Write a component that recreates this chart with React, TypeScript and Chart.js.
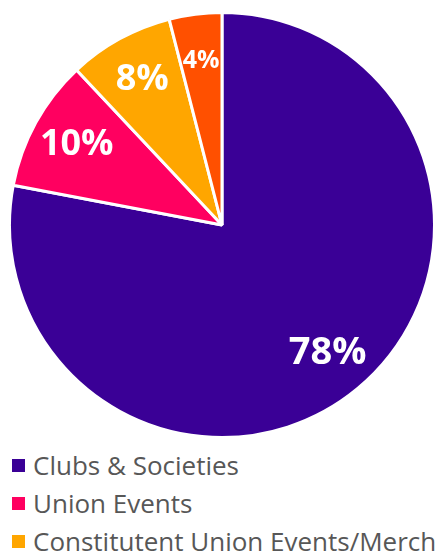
import React, { useEffect, useRef } from "react";
import { Chart, registerables } from "chart.js";

Chart.register(...registerables);

const categories = [
  "Clubs & Societies",
  "Union Events",
  "Constitutent Union Events/Merch",
  "Other",
];
const values = [78, 10, 8, 4];
const labelTexts = ["78%", "10%", "8%", "4%"];
const labelSizes = [38, 36, 36, 25];
const colors = ["#3a0096", "#ff0060", "#ffa600", "#ff5000"];

const pctLabels = {
  id: "pctLabels",
  afterDatasetsDraw(chart: any) {
    const ctx = chart.ctx;
    const meta = chart.getDatasetMeta(0);
    meta.data.forEach((arc: any, i: number) => {
      const { x, y, startAngle, endAngle, outerRadius } = arc.getProps(
        ["x", "y", "startAngle", "endAngle", "outerRadius"],
        true
      );
      const mid = (startAngle + endAngle) / 2;
      const r = outerRadius * 0.78;
      ctx.save();
      ctx.fillStyle = "#ffffff";
      ctx.font = `bold ${labelSizes[i]}px "Open Sans"`;
      ctx.textAlign = "center";
      ctx.textBaseline = "middle";
      ctx.fillText(labelTexts[i], x + Math.cos(mid) * r, y + Math.sin(mid) * r);
      ctx.restore();
    });
  },
};

export default function App() {
  const ref = useRef<HTMLCanvasElement>(null);
  useEffect(() => {
    const chart = new Chart(ref.current!, {
      type: "pie",
      data: {
        labels: categories,
        datasets: [
          {
            data: values,
            backgroundColor: colors,
            borderColor: "#ffffff",
            borderWidth: 3,
          },
        ],
      },
      options: {
        animation: false,
        responsive: true,
        maintainAspectRatio: false,
        layout: { padding: { left: 0, right: 4, top: 2, bottom: 0 } },
        plugins: {
          tooltip: { enabled: false },
          legend: { display: false },
        },
      },
      plugins: [pctLabels],
    });
    return () => chart.destroy();
  }, []);
  return (
    <div style={{ width: "432px" }}>
      <div style={{ position: "relative", width: "432px", height: "432px" }}>
        <canvas ref={ref} />
      </div>
      <div style={{ marginTop: "6px", fontFamily: "'Open Sans'", fontSize: "26px", color: "#575757" }}>
        {categories.map((c, i) => (
          <div
            key={c}
            style={{ display: "flex", alignItems: "center", height: "38px", whiteSpace: "nowrap" }}
          >
            <span
              style={{
                display: "inline-block",
                width: "13px",
                height: "13px",
                marginLeft: "4px",
                marginRight: "8px",
                background: colors[i],
                flex: "none",
              }}
            />
            <span style={{ flex: "none" }}>{c}</span>
          </div>
        ))}
      </div>
    </div>
  );
}
